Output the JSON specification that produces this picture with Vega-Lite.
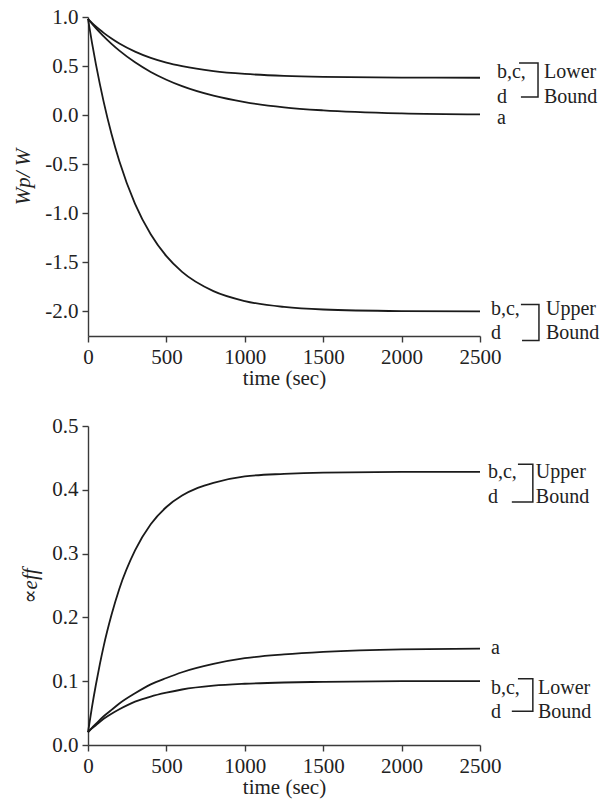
{
  "$schema": "https://vega.github.io/schema/vega-lite/v6.json",
  "padding": {"left": 12, "top": 6, "right": 4, "bottom": 4},
  "background": "white",
  "config": {
    "view": {"stroke": null},
    "font": "'Liberation Serif', 'Times New Roman', 'DejaVu Serif', serif",
    "text": {"font": "'Liberation Serif', 'Times New Roman', 'DejaVu Serif', serif"},
    "axis": {
      "grid": false,
      "domainColor": "#3a3a3a",
      "tickColor": "#3a3a3a",
      "domainWidth": 1.4,
      "tickWidth": 1.4,
      "tickSize": 6,
      "labelFont": "'Liberation Serif', 'Times New Roman', 'DejaVu Serif', serif",
      "labelFontSize": 21,
      "labelColor": "#222",
      "labelPadding": 4,
      "labelFlush": false,
      "labelOverlap": false,
      "titleFont": "'Liberation Serif', 'Times New Roman', 'DejaVu Serif', serif",
      "titleFontSize": 21,
      "titleFontWeight": "normal",
      "titleColor": "#222"
    },
    "concat": {"spacing": 27}
  },
  "datasets": {
    "topCurves": [
      {"s": "L", "t": 0, "v": 0.98}, {"s": "L", "t": 25, "v": 0.941}, {"s": "L", "t": 50, "v": 0.904}, {"s": "L", "t": 75, "v": 0.870},
      {"s": "L", "t": 100, "v": 0.838}, {"s": "L", "t": 150, "v": 0.780}, {"s": "L", "t": 200, "v": 0.729}, {"s": "L", "t": 300, "v": 0.647},
      {"s": "L", "t": 400, "v": 0.583}, {"s": "L", "t": 500, "v": 0.535}, {"s": "L", "t": 600, "v": 0.499}, {"s": "L", "t": 800, "v": 0.449},
      {"s": "L", "t": 1000, "v": 0.420}, {"s": "L", "t": 1250, "v": 0.400}, {"s": "L", "t": 1500, "v": 0.390}, {"s": "L", "t": 2000, "v": 0.383},
      {"s": "L", "t": 2500, "v": 0.381},
      {"s": "A", "t": 0, "v": 0.98}, {"s": "A", "t": 25, "v": 0.932}, {"s": "A", "t": 50, "v": 0.887}, {"s": "A", "t": 75, "v": 0.844},
      {"s": "A", "t": 100, "v": 0.802}, {"s": "A", "t": 150, "v": 0.726}, {"s": "A", "t": 200, "v": 0.657}, {"s": "A", "t": 300, "v": 0.538},
      {"s": "A", "t": 400, "v": 0.440}, {"s": "A", "t": 500, "v": 0.361}, {"s": "A", "t": 600, "v": 0.295}, {"s": "A", "t": 800, "v": 0.198},
      {"s": "A", "t": 1000, "v": 0.133}, {"s": "A", "t": 1250, "v": 0.080}, {"s": "A", "t": 1500, "v": 0.049}, {"s": "A", "t": 2000, "v": 0.018},
      {"s": "A", "t": 2500, "v": 0.007},
      {"s": "U", "t": 0, "v": 0.98}, {"s": "U", "t": 25, "v": 0.742}, {"s": "U", "t": 50, "v": 0.522}, {"s": "U", "t": 75, "v": 0.321},
      {"s": "U", "t": 100, "v": 0.135}, {"s": "U", "t": 150, "v": -0.193}, {"s": "U", "t": 200, "v": -0.470}, {"s": "U", "t": 300, "v": -0.904},
      {"s": "U", "t": 400, "v": -1.214}, {"s": "U", "t": 500, "v": -1.437}, {"s": "U", "t": 600, "v": -1.597}, {"s": "U", "t": 800, "v": -1.793},
      {"s": "U", "t": 1000, "v": -1.894}, {"s": "U", "t": 1250, "v": -1.954}, {"s": "U", "t": 1500, "v": -1.980}, {"s": "U", "t": 2000, "v": -1.996},
      {"s": "U", "t": 2500, "v": -2.0}
    ],
    "topText": [
      {"t": 2608, "v": 0.44, "label": "b,c,"},
      {"t": 2608, "v": 0.185, "label": "d"},
      {"t": 2608, "v": -0.025, "label": "a"},
      {"t": 2908, "v": 0.44, "label": "Lower"},
      {"t": 2908, "v": 0.185, "label": "Bound"},
      {"t": 2570, "v": -1.97, "label": "b,c,"},
      {"t": 2570, "v": -2.22, "label": "d"},
      {"t": 2921, "v": -1.97, "label": "Upper"},
      {"t": 2921, "v": -2.22, "label": "Bound"}
    ],
    "topBrackets": [
      {"g": "lo", "i": 0, "t": 2749, "v": 0.531},
      {"g": "lo", "i": 1, "t": 2870, "v": 0.531},
      {"g": "lo", "i": 2, "t": 2870, "v": 0.184},
      {"g": "lo", "i": 3, "t": 2761, "v": 0.184},
      {"g": "up", "i": 0, "t": 2761, "v": -1.929},
      {"g": "up", "i": 1, "t": 2876, "v": -1.929},
      {"g": "up", "i": 2, "t": 2876, "v": -2.296},
      {"g": "up", "i": 3, "t": 2768, "v": -2.296}
    ],
    "botCurves": [
      {"s": "U", "t": 0, "v": 0.02}, {"s": "U", "t": 25, "v": 0.059}, {"s": "U", "t": 50, "v": 0.094}, {"s": "U", "t": 75, "v": 0.126},
      {"s": "U", "t": 100, "v": 0.155}, {"s": "U", "t": 150, "v": 0.204}, {"s": "U", "t": 200, "v": 0.245}, {"s": "U", "t": 300, "v": 0.305},
      {"s": "U", "t": 400, "v": 0.346}, {"s": "U", "t": 500, "v": 0.373}, {"s": "U", "t": 600, "v": 0.391}, {"s": "U", "t": 700, "v": 0.403},
      {"s": "U", "t": 800, "v": 0.411}, {"s": "U", "t": 1000, "v": 0.421}, {"s": "U", "t": 1250, "v": 0.425}, {"s": "U", "t": 1500, "v": 0.427},
      {"s": "U", "t": 2000, "v": 0.428}, {"s": "U", "t": 2500, "v": 0.428},
      {"s": "A", "t": 0, "v": 0.02}, {"s": "A", "t": 25, "v": 0.027}, {"s": "A", "t": 50, "v": 0.033}, {"s": "A", "t": 100, "v": 0.045},
      {"s": "A", "t": 150, "v": 0.055}, {"s": "A", "t": 200, "v": 0.065}, {"s": "A", "t": 300, "v": 0.081}, {"s": "A", "t": 400, "v": 0.095},
      {"s": "A", "t": 500, "v": 0.105}, {"s": "A", "t": 600, "v": 0.114}, {"s": "A", "t": 800, "v": 0.127}, {"s": "A", "t": 1000, "v": 0.136},
      {"s": "A", "t": 1250, "v": 0.142}, {"s": "A", "t": 1500, "v": 0.146}, {"s": "A", "t": 2000, "v": 0.150}, {"s": "A", "t": 2500, "v": 0.151},
      {"s": "L", "t": 0, "v": 0.02}, {"s": "L", "t": 25, "v": 0.026}, {"s": "L", "t": 50, "v": 0.031}, {"s": "L", "t": 100, "v": 0.041},
      {"s": "L", "t": 150, "v": 0.049}, {"s": "L", "t": 200, "v": 0.056}, {"s": "L", "t": 300, "v": 0.068}, {"s": "L", "t": 400, "v": 0.076},
      {"s": "L", "t": 500, "v": 0.082}, {"s": "L", "t": 600, "v": 0.087}, {"s": "L", "t": 800, "v": 0.093}, {"s": "L", "t": 1000, "v": 0.096},
      {"s": "L", "t": 1250, "v": 0.098}, {"s": "L", "t": 1500, "v": 0.099}, {"s": "L", "t": 2000, "v": 0.100}, {"s": "L", "t": 2500, "v": 0.100}
    ],
    "botText": [
      {"t": 2551, "v": 0.428, "label": "b,c,"},
      {"t": 2551, "v": 0.389, "label": "d"},
      {"t": 2856, "v": 0.428, "label": "Upper"},
      {"t": 2856, "v": 0.389, "label": "Bound"},
      {"t": 2570, "v": 0.152, "label": "a"},
      {"t": 2570, "v": 0.09, "label": "b,c,"},
      {"t": 2570, "v": 0.051, "label": "d"},
      {"t": 2870, "v": 0.09, "label": "Lower"},
      {"t": 2870, "v": 0.051, "label": "Bound"}
    ],
    "botBrackets": [
      {"g": "up", "i": 0, "t": 2742, "v": 0.44},
      {"g": "up", "i": 1, "t": 2837, "v": 0.44},
      {"g": "up", "i": 2, "t": 2837, "v": 0.381},
      {"g": "up", "i": 3, "t": 2703, "v": 0.381},
      {"g": "lo", "i": 0, "t": 2742, "v": 0.104},
      {"g": "lo", "i": 1, "t": 2837, "v": 0.104},
      {"g": "lo", "i": 2, "t": 2837, "v": 0.053},
      {"g": "lo", "i": 3, "t": 2703, "v": 0.053}
    ]
  },
  "vconcat": [
    {
      "width": 392,
      "height": 319,
      "encoding": {
        "x": {"field": "t", "type": "quantitative", "scale": {"domain": [0, 2500], "nice": false},
              "axis": {"values": [0, 500, 1000, 1500, 2000, 2500], "title": "time (sec)", "titlePadding": 0, "format": "d"}},
        "y": {"field": "v", "type": "quantitative", "scale": {"domain": [-2.25, 1.0], "nice": false, "zero": false},
              "axis": {"values": [-2, -1.5, -1, -0.5, 0, 0.5, 1], "title": "Wp/ W", "titleFontStyle": "italic", "titlePadding": 11,
                       "labelExpr": "replace(format(datum.value, '.1f'), '\u2212', '-')"}}
      },
      "layer": [
        {"data": {"name": "topCurves"}, "mark": {"type": "line", "interpolate": "monotone", "color": "#1a1a1a", "strokeWidth": 1.8},
         "encoding": {"detail": {"field": "s"}}},
        {"data": {"name": "topText"}, "mark": {"type": "text", "align": "left", "baseline": "middle", "fontSize": 20, "color": "#222"},
         "encoding": {"text": {"field": "label"}}},
        {"data": {"name": "topBrackets"}, "mark": {"type": "line", "color": "#222", "strokeWidth": 1.5},
         "encoding": {"detail": {"field": "g"}, "order": {"field": "i"}}}
      ]
    },
    {
      "width": 392,
      "height": 319,
      "encoding": {
        "x": {"field": "t", "type": "quantitative", "scale": {"domain": [0, 2500], "nice": false},
              "axis": {"values": [0, 500, 1000, 1500, 2000, 2500], "title": "time (sec)", "titlePadding": 0, "format": "d"}},
        "y": {"field": "v", "type": "quantitative", "scale": {"domain": [0, 0.5], "nice": false},
              "axis": {"values": [0, 0.1, 0.2, 0.3, 0.4, 0.5], "title": "\u221deff", "titleFontStyle": "italic", "titlePadding": 11, "format": ".1f"}}
      },
      "layer": [
        {"data": {"name": "botCurves"}, "mark": {"type": "line", "interpolate": "monotone", "color": "#1a1a1a", "strokeWidth": 1.8},
         "encoding": {"detail": {"field": "s"}}},
        {"data": {"name": "botText"}, "mark": {"type": "text", "align": "left", "baseline": "middle", "fontSize": 20, "color": "#222"},
         "encoding": {"text": {"field": "label"}}},
        {"data": {"name": "botBrackets"}, "mark": {"type": "line", "color": "#222", "strokeWidth": 1.5},
         "encoding": {"detail": {"field": "g"}, "order": {"field": "i"}}}
      ]
    }
  ]
}
